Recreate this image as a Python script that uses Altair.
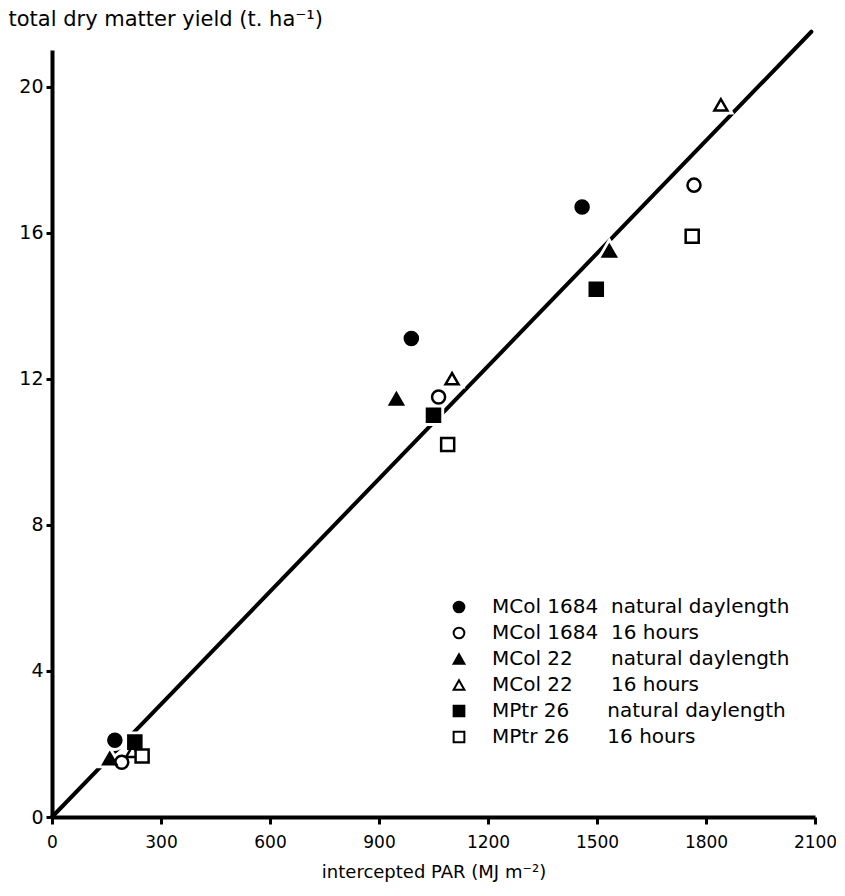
import altair as alt
import pandas as pd

# ---- data ----
series_names = [
    "MCol 1684 natural daylength",
    "MCol 1684 16 hours",
    "MCol 22 natural daylength",
    "MCol 22 16 hours",
    "MPtr 26 natural daylength",
    "MPtr 26 16 hours",
]
NB = "\u00a0"
legend_labels = [
    "MCol 1684" + NB * 2 + "natural daylength",
    "MCol 1684" + NB * 2 + "16 hours",
    "MCol 22" + NB * 6 + "natural daylength",
    "MCol 22" + NB * 6 + "16 hours",
    "MPtr 26" + NB * 6 + "natural daylength",
    "MPtr 26" + NB * 6 + "16 hours",
]

mcol1684_nat_x = [173, 989, 1459]
mcol1684_nat_y = [2.1, 13.1, 16.7]
mcol1684_16h_x = [192, 1064, 1767]
mcol1684_16h_y = [1.5, 11.5, 17.3]
mcol22_nat_x = [159, 948, 1534]
mcol22_nat_y = [1.6, 11.45, 15.5]
mcol22_16h_x = [222, 1101, 1841]
mcol22_16h_y = [1.8, 12.0, 19.5]
mptr26_nat_x = [228, 1050, 1498]
mptr26_nat_y = [2.05, 11.0, 14.45]
mptr26_16h_x = [248, 1089, 1762]
mptr26_16h_y = [1.67, 10.2, 15.9]

line_x = [0, 2090]
line_y = [0, 21.5]

x_ticks = [0, 300, 600, 900, 1200, 1500, 1800, 2100]
y_ticks = [0, 4, 8, 12, 16, 20]

# draw order: open triangle first (partly hidden in low cluster)
order = [3, 1, 5, 0, 2, 4]
all_x = [mcol1684_nat_x, mcol1684_16h_x, mcol22_nat_x, mcol22_16h_x, mptr26_nat_x, mptr26_16h_x]
all_y = [mcol1684_nat_y, mcol1684_16h_y, mcol22_nat_y, mcol22_16h_y, mptr26_nat_y, mptr26_16h_y]

rows = []
for i in order:
    for xv, yv in zip(all_x[i], all_y[i]):
        rows.append({"series": series_names[i], "x": xv, "y": yv})
df = pd.DataFrame(rows)
line_df = pd.DataFrame({"x": line_x, "y": line_y})

shape_range = ["circle", "circle", "triangle-up", "triangle-up", "square", "square"]
fill_range = ["black", "white", "black", "white", "black", "white"]
stroke_range = ["black"] * 6

label_expr = "{" + ",".join(f"'{s}':'{l}'" for s, l in zip(series_names, legend_labels)) + "}[datum.label]"

x_scale = alt.Scale(domain=[0, 2100], nice=False, zero=True)
y_scale = alt.Scale(domain=[0, 21], nice=False, zero=True)

x_axis = alt.Axis(
    values=x_ticks, format="d", title="intercepted PAR (MJ m\u207b\u00b2)", grid=False,
    tickSize=7, tickWidth=3, domainWidth=4, labelPadding=10, labelFontSize=17,
    titleFontSize=18, titleFontWeight="normal", titleBaseline="alphabetic", titleY=60,
    labelFlush=False,
)
y_axis = alt.Axis(
    values=y_ticks, format="d", title="total dry matter yield (t. ha\u207b\u00b9)", grid=False,
    tickSize=6, tickWidth=3, domainWidth=4, labelPadding=3, labelFontSize=19,
    titleFontSize=21, titleFontWeight="normal", titleAngle=0, titleAlign="left",
    titleBaseline="alphabetic", titleX=-44, titleY=-25, labelFlush=False,
)

legend = alt.Legend(
    title=None, orient="none", legendX=397, legendY=547, padding=0,
    labelExpr=label_expr, labelFontSize=20, labelOffset=23, rowPadding=6,
    symbolSize=115, symbolStrokeWidth=2, symbolOpacity=1,
    labelLimit=500,
)

line = alt.Chart(line_df).mark_line(color="black", strokeWidth=4, strokeCap="round").encode(
    x=alt.X("x:Q", scale=x_scale, axis=x_axis),
    y=alt.Y("y:Q", scale=y_scale, axis=y_axis),
)

# white halos behind the markers (break the line around them)
halos = []
for shp in ["circle", "triangle-up", "square"]:
    members = [s for s, r in zip(series_names, shape_range) if r == shp]
    halos.append(
        alt.Chart(df).transform_filter(
            alt.FieldOneOfPredicate(field="series", oneOf=members)
        ).mark_point(shape=shp, filled=True, size=180, color="white", stroke="white",
                     strokeWidth=8, opacity=1).encode(
            x=alt.X("x:Q", scale=x_scale),
            y=alt.Y("y:Q", scale=y_scale),
        )
    )

points = alt.Chart(df).mark_point(filled=True, size=170, strokeWidth=2.5, opacity=1).encode(
    x=alt.X("x:Q", scale=x_scale),
    y=alt.Y("y:Q", scale=y_scale),
    shape=alt.Shape("series:N", scale=alt.Scale(domain=series_names, range=shape_range), legend=legend),
    fill=alt.Fill("series:N", scale=alt.Scale(domain=series_names, range=fill_range), legend=legend),
    stroke=alt.Stroke("series:N", scale=alt.Scale(domain=series_names, range=stroke_range), legend=legend),
)

chart = alt.layer(line, *halos, points).properties(
    width=763, height=767,
    padding={"left": 44, "top": 42, "right": 21, "bottom": 70},
    autosize=alt.AutoSizeParams(type="none"),
).configure(font="DejaVu Sans").configure_view(stroke=None).configure_axis(
    domainColor="black", tickColor="black", labelColor="black", titleColor="black",
).configure_legend(labelColor="black")

chart.save("out.html", embed_options={"renderer": "svg", "actions": False})
